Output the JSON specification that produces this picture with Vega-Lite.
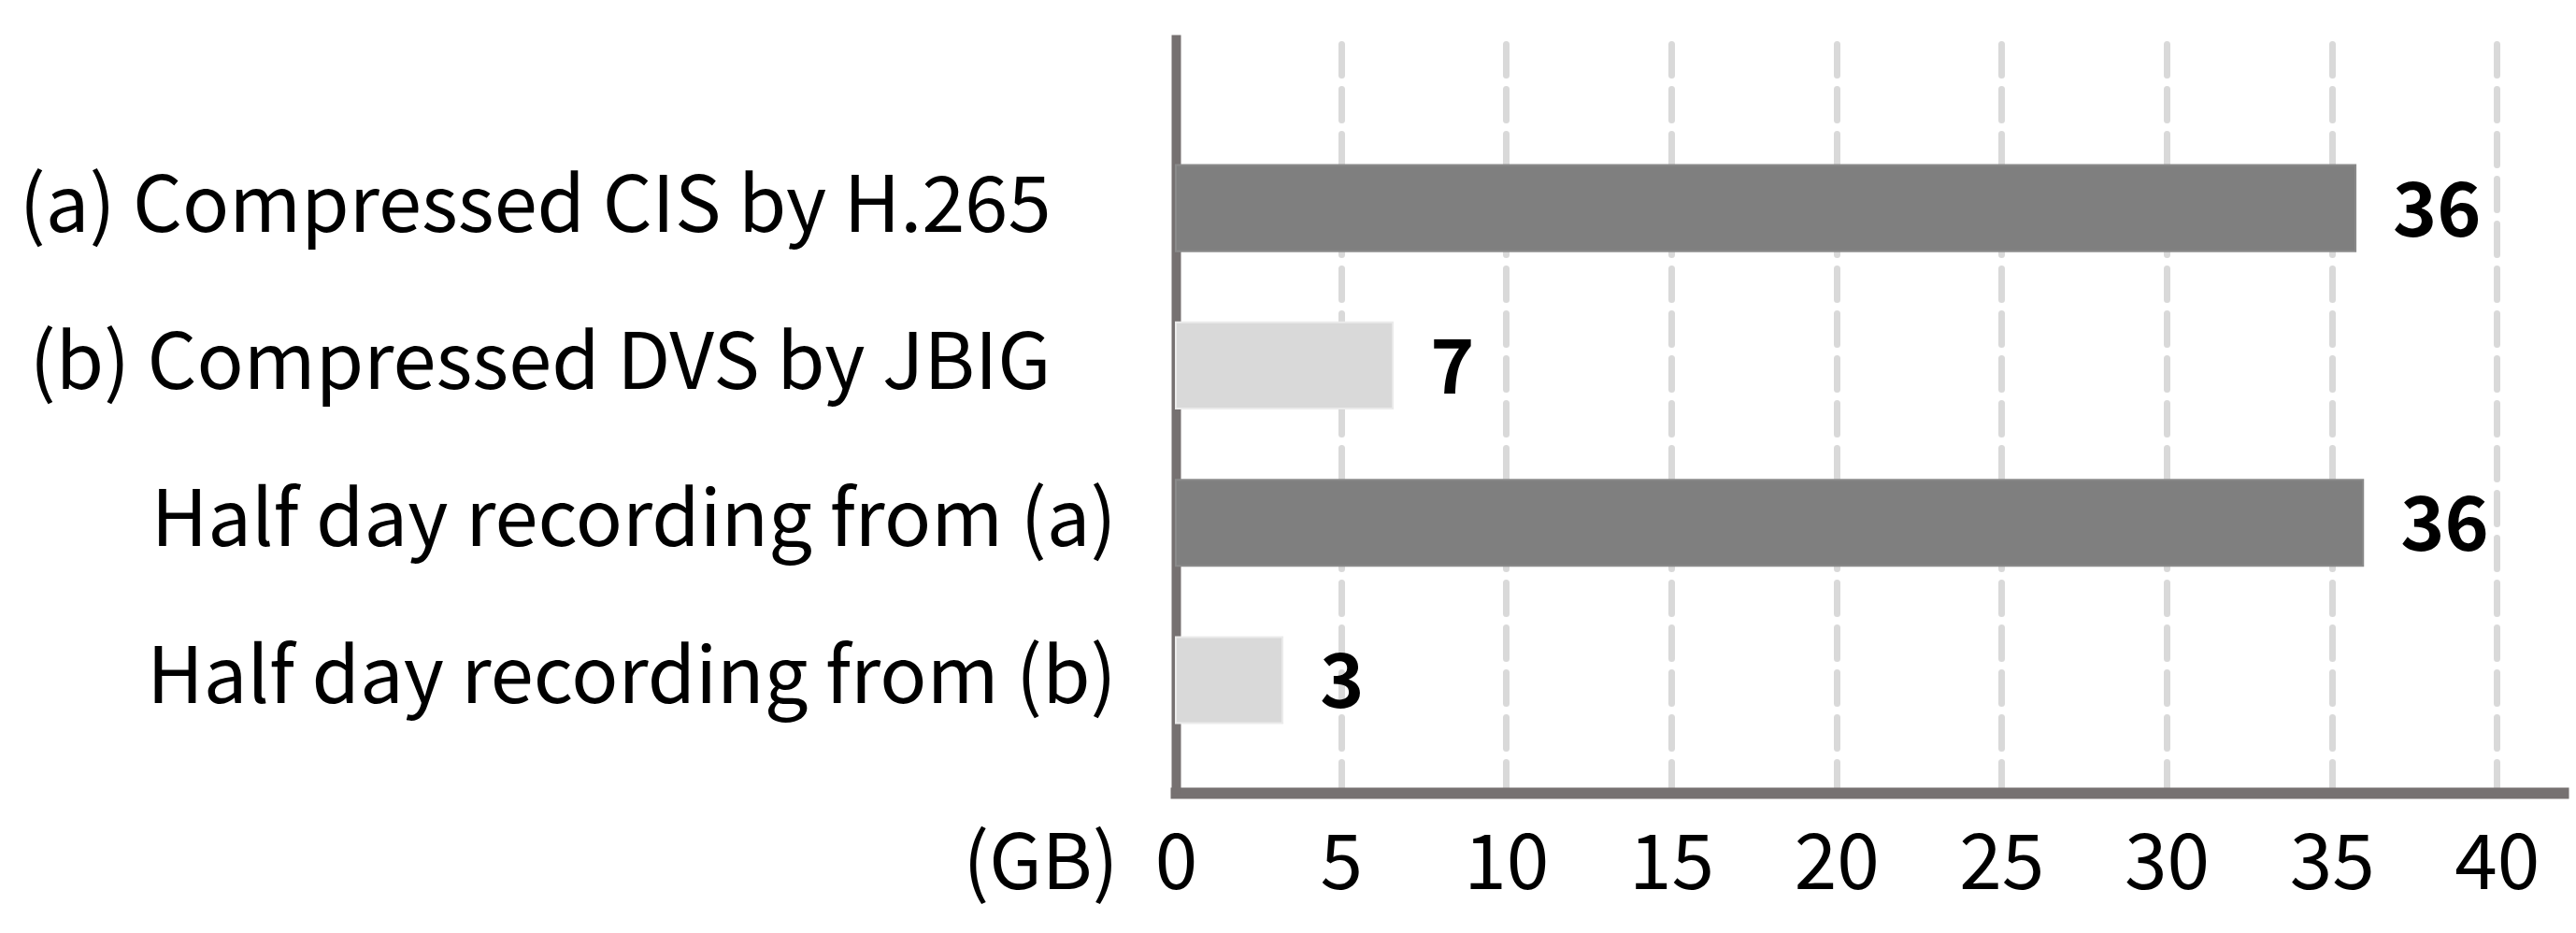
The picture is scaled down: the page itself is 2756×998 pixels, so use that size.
{
  "$schema": "https://vega.github.io/schema/vega-lite/v6.json",
  "width": 1484,
  "height": 811,
  "autosize": {"type": "none"},
  "padding": {"left": 1258, "top": 37, "right": 14, "bottom": 150},
  "background": "white",
  "config": {
    "view": {"stroke": null},
    "font": "Noto Sans CJK KR"
  },
  "data": {
    "values": [
      {"item": "(a) Compressed CIS by H.265", "size": 35.72, "kind": "dark"},
      {"item": "(b) Compressed DVS by JBIG", "size": 6.57, "kind": "light"},
      {"item": "Half day recording from (a)", "size": 35.95, "kind": "dark"},
      {"item": "Half day recording from (b)", "size": 3.23, "kind": "light"}
    ]
  },
  "encoding": {
    "y": {
      "field": "item",
      "type": "nominal",
      "sort": null,
      "scale": {"paddingInner": 0.453, "paddingOuter": 0.636, "align": 0.652},
      "axis": {
        "title": null,
        "domainColor": "#767171",
        "domainWidth": 10,
        "ticks": false,
        "tickSize": 0,
        "grid": false,
        "labelFont": "Noto Sans CJK KR",
        "labelFontSize": 83,
        "labelFontWeight": "normal",
        "labelColor": "#000000",
        "labelLimit": 0,
        "labelAlign": "right",
        "labelBaseline": "middle",
        "labelPadding": {"condition": {"test": "indexof(datum.value, 'Half') == 0", "value": 64}, "value": 134}
      }
    },
    "x": {
      "field": "size",
      "type": "quantitative",
      "scale": {"domain": [0, 42], "nice": false},
      "axis": {
        "values": [0, 5, 10, 15, 20, 25, 30, 35, 40],
        "title": "(GB)",
        "titleFont": "Noto Sans CJK KR",
        "titleFontSize": 82,
        "titleFontWeight": "normal",
        "titleColor": "#000000",
        "titleX": -145,
        "titleY": 102,
        "titleAlign": "center",
        "titleBaseline": "alphabetic",
        "titleAnchor": null,
        "domainColor": "#767171",
        "domainWidth": 12,
        "domainCap": "square",
        "ticks": false,
        "tickSize": 0,
        "grid": true,
        "gridColor": "#d9d9d9",
        "gridWidth": 7,
        "gridDash": [33, 15],
        "gridCap": "round",
        "labelFont": "Noto Sans CJK KR",
        "labelFontSize": 82,
        "labelFontWeight": "normal",
        "labelColor": "#000000",
        "labelPadding": 102,
        "labelBaseline": "alphabetic",
        "labelAlign": "center",
        "labelFlush": false,
        "labelOverlap": false
      }
    }
  },
  "layer": [
    {
      "mark": {"type": "bar", "strokeWidth": 2},
      "encoding": {
        "color": {
          "field": "kind",
          "type": "nominal",
          "scale": {"domain": ["dark", "light"], "range": ["#7f7f7f", "#d9d9d9"]},
          "legend": null
        },
        "stroke": {
          "field": "kind",
          "type": "nominal",
          "scale": {"domain": ["dark", "light"], "range": ["#8a8a8a", "#ebebeb"]},
          "legend": null
        }
      }
    },
    {
      "mark": {
        "type": "text",
        "align": "left",
        "baseline": "alphabetic",
        "dx": 40,
        "dy": 30,
        "fontSize": 80,
        "fontWeight": "bold",
        "color": "#000000"
      },
      "encoding": {
        "text": {"field": "size", "type": "quantitative", "format": ".0f"}
      }
    }
  ]
}
